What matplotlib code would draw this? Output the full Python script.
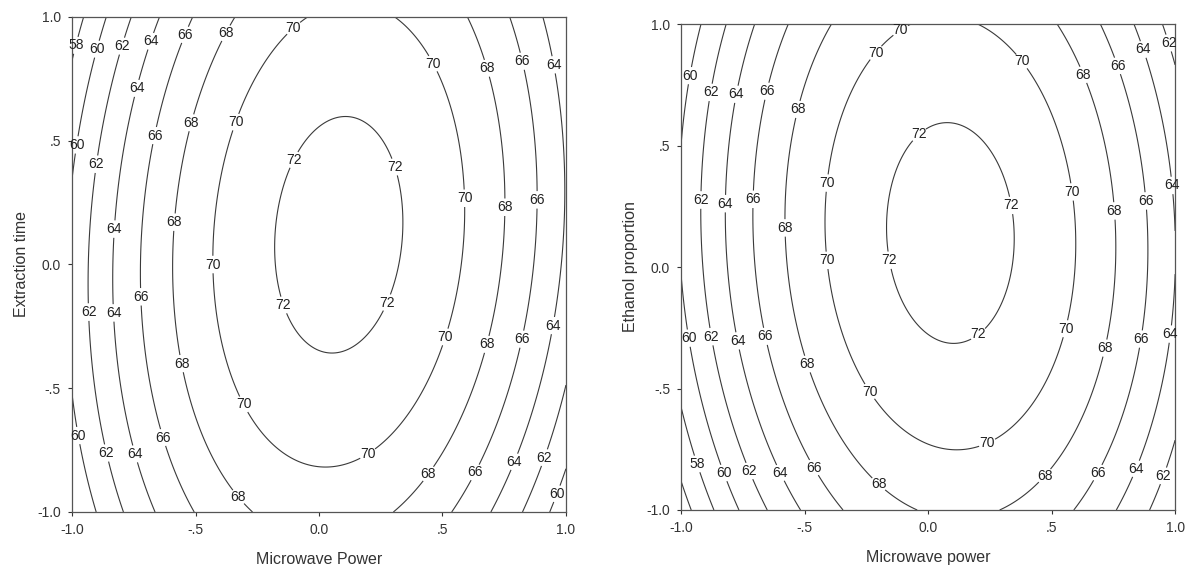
import numpy as np
import matplotlib.pyplot as plt

plt.rcParams['font.family'] = ['Liberation Sans', 'DejaVu Sans']

# quadratic response surface coefficients
# [peak, x-centre, y-centre, x-curvature, y-curvature, cross term]
left_model = [72.7, 0.08, 0.12, 10.5, 3.1, 1.2]
right_model = [72.7, 0.09, 0.14, 10.5, 3.4, -0.6]

levels = [56, 58, 60, 62, 64, 66, 68, 70, 72]

tick_vals = [-1.0, -0.5, 0.0, 0.5, 1.0]
tick_text = ['-1.0', '-.5', '0.0', '.5', '1.0']

# where the contour labels sit in the reference
left_label_pos = [
    (-0.968, 0.881), (-0.885, 0.866), (-0.784, 0.878), (-0.664, 0.896), (-0.528, 0.922),
    (-0.363, 0.927), (-0.09, 0.94), (0.47, 0.816), (0.695, 0.797), (0.84, 0.825),
    (0.968, 0.81), (-0.725, 0.708), (-0.5, 0.568), (-0.32, 0.569), (-0.968, 0.481),
    (-0.652, 0.518), (-0.887, 0.403), (-0.086, 0.415), (0.323, 0.399), (0.606, 0.268),
    (0.775, 0.231), (0.903, 0.261), (-0.815, 0.142), (-0.574, 0.17), (-0.413, 0.0),
    (-0.706, -0.13), (-0.92, -0.192), (-0.817, -0.195), (-0.126, -0.158), (0.285, -0.158),
    (0.965, -0.25), (0.524, -0.297), (0.695, -0.327), (0.836, -0.305), (-0.538, -0.397),
    (-0.282, -0.553), (-0.957, -0.688), (-0.611, -0.693), (-0.84, -0.757), (-0.725, -0.76),
    (0.19, -0.753), (0.443, -0.846), (0.634, -0.841), (0.798, -0.8), (0.926, -0.785),
    (0.97, -0.929), (-0.302, -0.919),
]
right_label_pos = [
    (-0.107, 0.967), (-0.208, 0.878), (0.375, 0.843), (0.628, 0.791), (0.767, 0.828),
    (0.873, 0.896), (0.974, 0.922), (-0.966, 0.788), (-0.882, 0.719), (-0.782, 0.712),
    (-0.655, 0.724), (-0.529, 0.649), (-0.034, 0.542), (-0.413, 0.346), (0.338, 0.254),
    (0.582, 0.309), (0.755, 0.231), (0.88, 0.272), (0.989, 0.336), (-0.925, 0.276),
    (-0.828, 0.261), (-0.716, 0.279), (-0.583, 0.161), (-0.415, 0.027), (-0.162, 0.027),
    (-0.977, -0.294), (-0.885, -0.288), (-0.782, -0.306), (-0.667, -0.287), (0.203, -0.276),
    (0.556, -0.254), (0.713, -0.333), (0.859, -0.296), (0.981, -0.276), (-0.494, -0.401),
    (-0.241, -0.515), (0.237, -0.719), (-0.943, -0.813), (-0.836, -0.851), (-0.732, -0.843),
    (-0.606, -0.851), (-0.467, -0.828), (-0.203, -0.896), (0.467, -0.854), (0.681, -0.843),
    (0.836, -0.828), (0.949, -0.858),
]


def surface(model, X, Y):
    top, x0, y0, a, b, c = model
    dx = X - x0
    dy = Y - y0
    return top - a * dx ** 2 - b * dy ** 2 + c * dx * dy


def draw_panel(ax, model, label_pos, xlabel, ylabel):
    g = np.linspace(-1, 1, 301)
    X, Y = np.meshgrid(g, g)
    Z = surface(model, X, Y)
    cs = ax.contour(X, Y, Z, levels=levels, colors='#3a3a3a', linewidths=0.8)
    labels = ax.clabel(cs, fmt='%d', fontsize=10, inline=True, inline_spacing=1,
                       manual=label_pos, colors='#222222')
    # SigmaPlot keeps the labels upright and lets them run over the frame
    for t in labels:
        t.set_rotation(0)
        t.set_clip_on(False)
    ax.set_xlim(-1, 1)
    ax.set_ylim(-1, 1)
    ax.set_xticks(tick_vals)
    ax.set_xticklabels(tick_text)
    ax.set_yticks(tick_vals)
    ax.set_yticklabels(tick_text)
    ax.tick_params(direction='out', length=3, width=0.8, pad=5, labelsize=10, colors='#333333')
    for s in ax.spines.values():
        s.set_color('#555555')
        s.set_linewidth(0.9)
    ax.set_xlabel(xlabel, fontsize=11.5, color='#333333', labelpad=11)
    ax.set_ylabel(ylabel, fontsize=11.5, color='#333333', labelpad=6)


fig = plt.figure(figsize=(11.93, 5.69), dpi=100)
ax1 = fig.add_axes([0.0604, 0.1002, 0.414, 0.870])
ax2 = fig.add_axes([0.571, 0.1037, 0.414, 0.854])

draw_panel(ax1, left_model, left_label_pos, 'Microwave Power', 'Extraction time')
draw_panel(ax2, right_model, right_label_pos, 'Microwave power', 'Ethanol proportion')

fig.savefig('out.png', dpi=100)
